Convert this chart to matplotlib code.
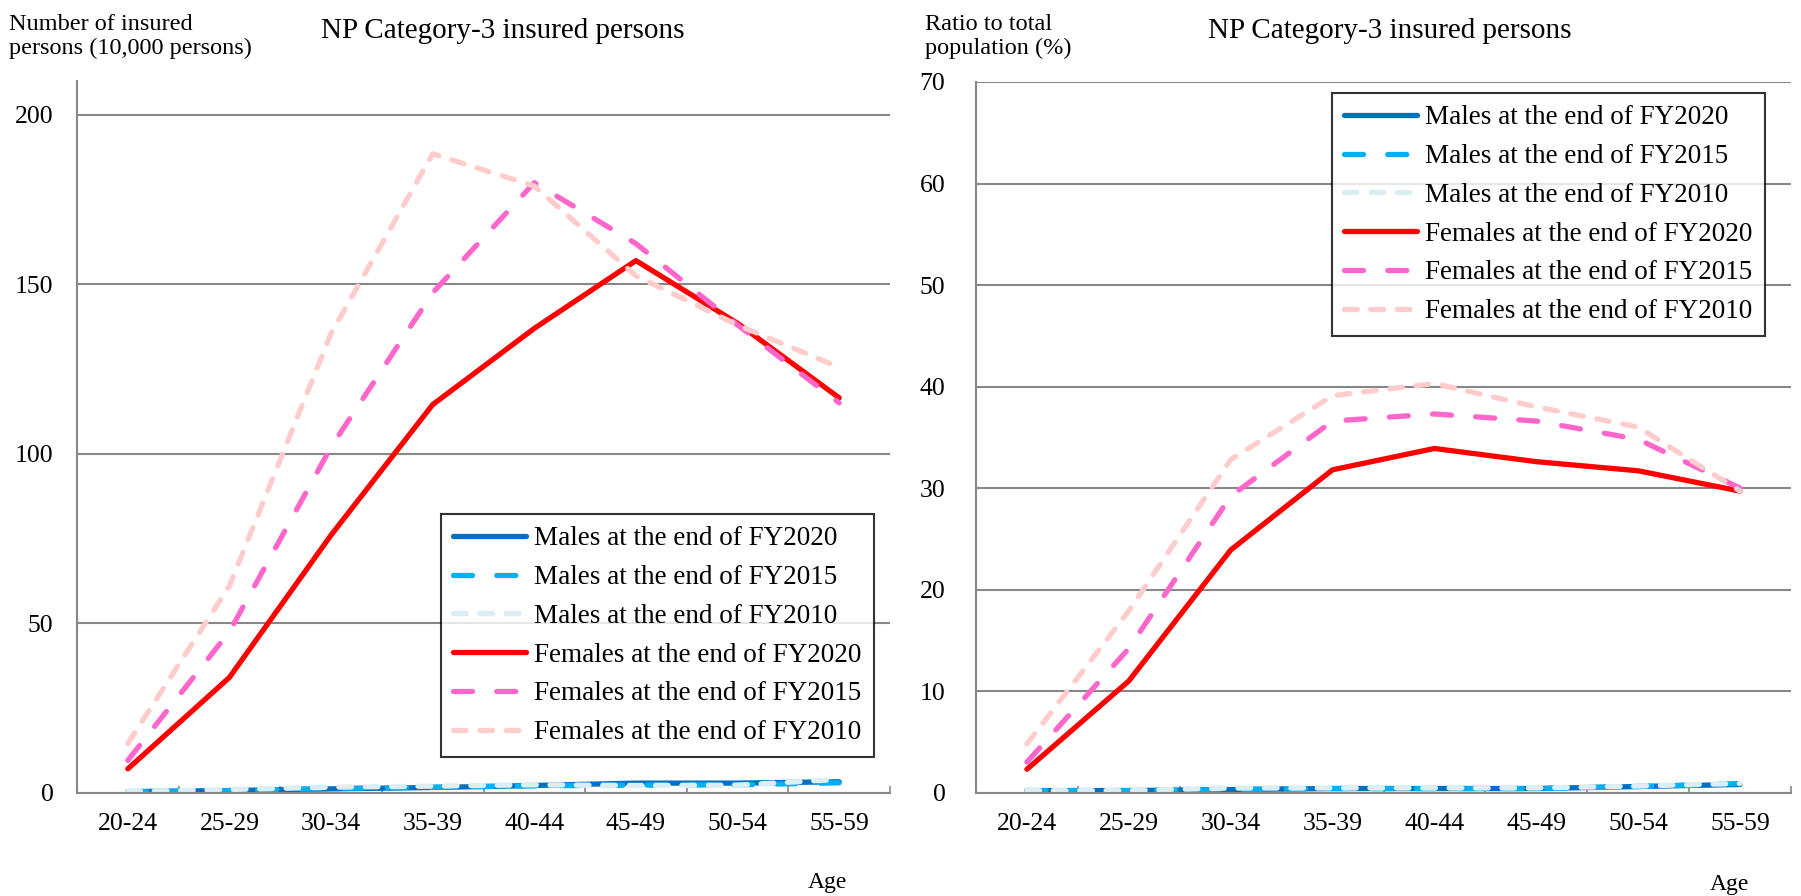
import numpy as np
import matplotlib
matplotlib.use("Agg")
import matplotlib.pyplot as plt

plt.rcParams['font.family'] = ['Liberation Serif', 'DejaVu Serif']

# age groups on the x axis
ages = ['20-24', '25-29', '30-34', '35-39', '40-44', '45-49', '50-54', '55-59']

# number of insured persons (10,000 persons)
m2020_num = [0.3, 0.6, 1.1, 1.5, 2.1, 2.8, 2.8, 3.2]
m2015_num = [0.2, 0.6, 1.2, 1.6, 2.0, 2.2, 2.3, 2.9]
m2010_num = [0.3, 0.9, 1.6, 1.9, 2.3, 2.1, 2.2, 3.9]
f2020_num = [7.0, 34.0, 76.0, 114.5, 137.0, 157.0, 138.5, 116.5]
f2015_num = [9.5, 47.5, 102.0, 147.5, 180.0, 162.0, 138.0, 115.0]
f2010_num = [14.5, 61.0, 135.5, 188.5, 179.0, 152.5, 138.0, 125.5]

# ratio to total population (%)
m2020_pct = [0.2, 0.2, 0.3, 0.4, 0.4, 0.4, 0.6, 0.8]
m2015_pct = [0.2, 0.2, 0.3, 0.4, 0.4, 0.4, 0.6, 0.9]
m2010_pct = [0.2, 0.2, 0.45, 0.45, 0.45, 0.45, 0.65, 0.9]
f2020_pct = [2.3, 11.0, 23.9, 31.8, 33.9, 32.6, 31.7, 29.7]
f2015_pct = [3.0, 14.2, 29.2, 36.6, 37.3, 36.6, 34.8, 30.0]
f2010_pct = [4.8, 17.9, 32.8, 39.1, 40.3, 38.0, 36.0, 29.7]

labels = ['Males at the end of FY2020', 'Males at the end of FY2015',
          'Males at the end of FY2010', 'Females at the end of FY2020',
          'Females at the end of FY2015', 'Females at the end of FY2010']
colors = ['#0070C0', '#00B0F0', '#DAEEF3', '#FF0000', '#FF66CC', '#FFCCCC']
dashes = [None, (3.6, 4.6), (2.4, 2.6), None, (3.6, 4.6), (2.4, 2.6)]

W, H = 1801, 896
fig = plt.figure(figsize=(W / 100, H / 100), dpi=100)

grid_col = '#878787'


def draw_panel(ax, series, ymax, yticks, tick_pad):
    x = np.arange(len(ages))
    for vals, lab, col, ds in zip(series, labels, colors, dashes):
        line, = ax.plot(x, vals, color=col, lw=3.8, label=lab,
                        solid_capstyle='round', dash_capstyle='round',
                        solid_joinstyle='round')
        if ds is not None:
            line.set_dashes(ds)
    ax.set_xlim(-0.5, len(ages) - 0.5)
    ax.set_ylim(0, ymax)
    ax.set_yticks(yticks)
    ax.set_xticks(x)
    ax.set_xticklabels(ages)
    ax.set_xticks(np.arange(len(ages) + 1) - 0.5, minor=True)
    ax.tick_params(axis='x', which='major', length=0, pad=15, labelsize=18.5)
    ax.tick_params(axis='x', which='minor', direction='in', length=5,
                   width=1.2, color=grid_col)
    ax.tick_params(axis='y', length=0, pad=tick_pad, labelsize=18.5)
    ax.grid(axis='y', color=grid_col, lw=1.5)
    ax.set_axisbelow(True)
    for s in ['top', 'right']:
        ax.spines[s].set_visible(False)
    for s in ['left', 'bottom']:
        ax.spines[s].set_color(grid_col)
        ax.spines[s].set_linewidth(1.5)


ax1 = fig.add_axes([77 / W, 1 - 792.6 / H, 813 / W, 711.6 / H])
draw_panel(ax1, [m2020_num, m2015_num, m2010_num, f2020_num, f2015_num, f2010_num],
           210, [0, 50, 100, 150, 200], 17)

ax2 = fig.add_axes([976 / W, 1 - 792.6 / H, 815 / W, 710.6 / H])
draw_panel(ax2, [m2020_pct, m2015_pct, m2010_pct, f2020_pct, f2015_pct, f2010_pct],
           70, [0, 10, 20, 30, 40, 50, 60, 70], 22)

leg_kw = dict(loc='upper left', bbox_transform=fig.transFigure, fontsize=19.5,
              frameon=True, fancybox=False, edgecolor='black', borderpad=0.45,
              handlelength=2.7, handletextpad=0.3, labelspacing=0.51,
              borderaxespad=0)
leg1 = ax1.legend(bbox_to_anchor=(441 / W, 1 - 514 / H), **leg_kw)
leg2 = ax2.legend(bbox_to_anchor=(1332 / W, 1 - 93 / H), **leg_kw)
for leg in (leg1, leg2):
    leg.get_frame().set_linewidth(1.5)

# titles and axis captions
fig.text(503 / W, 1 - 31 / H, 'NP Category-3 insured persons',
         ha='center', va='center', fontsize=21)
fig.text(1390 / W, 1 - 31 / H, 'NP Category-3 insured persons',
         ha='center', va='center', fontsize=21)
fig.text(9 / W, 1 - 14 / H, 'Number of insured\npersons (10,000 persons)',
         ha='left', va='top', fontsize=17.5, linespacing=1.2)
fig.text(925 / W, 1 - 14 / H, 'Ratio to total\npopulation (%)',
         ha='left', va='top', fontsize=17.5, linespacing=1.2)
fig.text(827 / W, 1 - 882 / H, 'Age', ha='center', va='center', fontsize=17)
fig.text(1729 / W, 1 - 884 / H, 'Age', ha='center', va='center', fontsize=17)

fig.savefig('out.png', dpi=100)
